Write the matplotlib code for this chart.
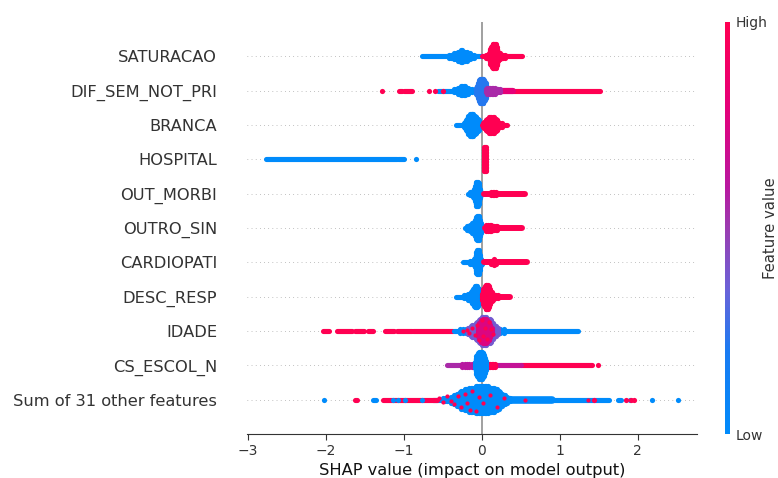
import numpy as np
import matplotlib
matplotlib.use('Agg')
import matplotlib.pyplot as plt
from matplotlib.colors import LinearSegmentedColormap
from matplotlib.cm import ScalarMappable

FEATURES = ['SATURACAO', 'DIF_SEM_NOT_PRI', 'BRANCA', 'HOSPITAL', 'OUT_MORBI', 'OUTRO_SIN',
            'CARDIOPATI', 'DESC_RESP', 'IDADE', 'CS_ESCOL_N', 'Sum of 31 other features']
X_TICKS = [-3, -2, -1, 0, 1, 2]

# *_X / *_N: SHAP values and how many dots are stacked each side of the row there
# *_RUNS: (start, end) of stretches where the dots merge into one solid band
SAT_LOW_RUNS = [(-0.77, 0.0)]
SAT_LOW_X = [-0.42, -0.39, -0.37, -0.35, -0.33, -0.31, -0.29, -0.27, -0.25, -0.23, -0.21, -0.19, -0.17, -0.15, -0.13, -0.10]
SAT_LOW_N = [1, 1, 1, 2, 2, 3, 3, 4, 4, 3, 3, 3, 2, 2, 1, 1]
SAT_HIGH_RUNS = [(0.0, 0.52)]
SAT_HIGH_X = [0.06, 0.08, 0.09, 0.10, 0.11, 0.12, 0.13, 0.14, 0.15, 0.16, 0.17, 0.18, 0.19, 0.20, 0.21, 0.22, 0.24, 0.27, 0.30]
SAT_HIGH_N = [1, 1, 2, 3, 5, 6, 7, 8, 8, 8, 8, 8, 6, 5, 3, 2, 2, 1, 1]

DIF_RED_LEFT_X = [-1.28, -0.68, -0.60, -0.50]
DIF_RED_LEFT_RUNS = [(-1.06, -1.02), (-1.0, -0.89)]
DIF_LOW_RUNS = [(-0.56, -0.05)]
DIF_LOW_X = [-0.36, -0.33, -0.31, -0.29, -0.27, -0.25, -0.23, -0.21, -0.19, -0.17, -0.15, -0.12]
DIF_LOW_N = [1, 1, 2, 2, 3, 3, 3, 3, 2, 2, 1, 1]
DIF_MID_X = [-0.07, -0.06, -0.05, -0.04, -0.03, -0.02, -0.01, 0.0, 0.01, 0.02, 0.03, 0.04, 0.05, 0.06, 0.07]
DIF_MID_N = [2, 3, 5, 6, 7, 8, 8, 8, 8, 8, 7, 6, 5, 3, 2]
DIF_PURPLE_X = [0.05, 0.07, 0.09, 0.11, 0.13, 0.15, 0.17, 0.19, 0.21, 0.24]
DIF_PURPLE_N = [1, 2, 2, 2, 2, 2, 2, 1, 1, 1]
DIF_MAG_RUNS = [(0.2, 0.4)]
DIF_HIGH_RUNS = [(0.4, 1.52)]

BRANCA_LOW_RUNS = [(-0.33, 0.0)]
BRANCA_LOW_X = [-0.23, -0.21, -0.20, -0.19, -0.18, -0.17, -0.16, -0.15, -0.14, -0.13, -0.12, -0.11, -0.10, -0.09, -0.08, -0.07, -0.06, -0.05, -0.04, -0.03, -0.02]
BRANCA_LOW_N = [1, 2, 3, 4, 5, 6, 6, 7, 7, 7, 7, 7, 6, 6, 5, 5, 4, 4, 3, 2, 1]
BRANCA_HIGH_RUNS = [(0.0, 0.33)]
BRANCA_HIGH_X = [0.02, 0.03, 0.04, 0.05, 0.06, 0.07, 0.08, 0.09, 0.10, 0.12, 0.14, 0.16, 0.17, 0.18, 0.19, 0.20, 0.21, 0.22, 0.24, 0.26]
BRANCA_HIGH_N = [1, 2, 2, 3, 3, 4, 4, 5, 5, 5, 5, 5, 4, 4, 3, 3, 2, 1, 1, 1]

HOSP_LOW_RUNS = [(-2.77, -1.09), (-1.07, -1.0)]
HOSP_LOW_X = [-0.84]
HOSP_HIGH_X = [0.03, 0.04, 0.05]
HOSP_HIGH_N = [8, 8, 8]

MORBI_LOW_X = [-0.18, -0.15, -0.13, -0.11, -0.10, -0.09, -0.08, -0.07, -0.06, -0.05, -0.04, -0.03, -0.02, -0.01]
MORBI_LOW_N = [0, 1, 1, 2, 3, 5, 7, 8, 8, 8, 7, 5, 3, 1]
MORBI_HIGH_RUNS = [(0.03, 0.56)]
MORBI_HIGH_X = [0.12, 0.14, 0.16, 0.18]
MORBI_HIGH_N = [1, 1, 1, 1]

SIN_LOW_X = [-0.22, -0.19, -0.17, -0.15, -0.13, -0.12, -0.11, -0.10, -0.09, -0.08, -0.07, -0.06, -0.05, -0.04, -0.03, -0.02, -0.01, 0.0]
SIN_LOW_N = [0, 1, 1, 2, 2, 3, 3, 4, 5, 6, 7, 8, 8, 8, 7, 5, 3, 1]
SIN_HIGH_RUNS = [(0.04, 0.52)]
SIN_HIGH_X = [0.05, 0.06, 0.08, 0.10, 0.12, 0.14, 0.16, 0.18, 0.20]
SIN_HIGH_N = [1, 2, 2, 2, 2, 1, 1, 1, 1]

CARD_LOW_RUNS = [(-0.24, -0.08)]
CARD_LOW_X = [-0.15, -0.12, -0.10, -0.09, -0.08, -0.07, -0.06, -0.05, -0.04, -0.03, -0.02, -0.01, 0.0]
CARD_LOW_N = [1, 1, 2, 3, 5, 7, 8, 8, 8, 7, 5, 2, 1]
CARD_HIGH_RUNS = [(0.03, 0.58)]
CARD_HIGH_X = [0.12, 0.14, 0.16, 0.18]
CARD_HIGH_N = [1, 1, 2, 1]

RESP_LOW_RUNS = [(-0.33, -0.1)]
RESP_LOW_X = [-0.23, -0.20, -0.18, -0.16, -0.14, -0.13, -0.12, -0.11, -0.10, -0.09, -0.08, -0.07, -0.06, -0.05, -0.04, -0.03, -0.02, -0.01]
RESP_LOW_N = [1, 1, 2, 2, 3, 4, 4, 5, 6, 7, 7, 7, 7, 6, 5, 4, 2, 1]
RESP_HIGH_RUNS = [(0.1, 0.36)]
RESP_HIGH_X = [0.0, 0.01, 0.02, 0.03, 0.04, 0.05, 0.06, 0.07, 0.08, 0.09, 0.10, 0.11, 0.12, 0.13, 0.14, 0.16, 0.18, 0.21]
RESP_HIGH_N = [2, 3, 5, 6, 7, 8, 8, 8, 8, 7, 5, 4, 3, 3, 2, 1, 1, 1]

AGE_HIGH_RUNS = [(-2.03, -1.96), (-1.86, -1.67), (-1.62, -1.51), (-1.46, -1.39), (-1.24, -1.12), (-1.09, -0.90), (-0.88, -0.37)]
AGE_BLUE_RUNS = [(-0.36, -0.14), (0.2, 1.23)]
AGE_BLUE_X = [-0.28, -0.24, -0.20, -0.16, 0.20, 0.24, 0.28]
AGE_BLUE_N = [1, 1, 1, 2, 2, 1, 1]
AGE_MID_X = [-0.18, -0.16, -0.14, -0.12, -0.10, -0.08, -0.06, -0.04, -0.02, 0.0, 0.02, 0.04, 0.06, 0.08, 0.10, 0.12, 0.14, 0.16, 0.18, 0.21]
AGE_MID_N = [2, 2, 3, 4, 4, 5, 6, 7, 8, 9, 9, 9, 9, 8, 8, 7, 5, 4, 3, 2]
AGE_MAG_X = [-0.05, -0.03, -0.01, 0.01, 0.03, 0.05, 0.07, 0.09, 0.11, 0.13]
AGE_MAG_N = [3, 5, 7, 8, 8, 8, 7, 6, 4, 2]
AGE_SPECK_X = [-0.24, -0.19, -0.16, -0.12, -0.09, -0.06, -0.03, 0.0, 0.02, 0.04, 0.07, 0.09, 0.12, 0.15]
AGE_SPECK_Y = [0.0, 0.03, -0.06, 0.08, -0.11, 0.17, -0.26, 0.31, -0.14, 0.10, -0.22, 0.26, 0.05, -0.08]

ESC_PURPLE_RUNS = [(-0.45, -0.1)]
ESC_PURPLE_X = [-0.25, -0.22, -0.19, -0.16, -0.13]
ESC_PURPLE_N = [1, 1, 1, 1, 1]
ESC_LOW_X = [-0.09, -0.08, -0.07, -0.06, -0.05, -0.04, -0.03, -0.02, -0.01, 0.0, 0.01, 0.02, 0.03, 0.04, 0.05]
ESC_LOW_N = [2, 4, 6, 7, 8, 8, 9, 9, 9, 9, 8, 8, 7, 5, 3]
ESC_MAG_RUNS = [(0.12, 0.5)]
ESC_HIGH_RUNS = [(0.5, 1.42)]
ESC_HIGH_X = [1.49]
ESC_NEAR_X = [0.07, 0.09, 0.11, 0.13, 0.15, 0.17]
ESC_NEAR_N = [1, 1, 1, 1, 1, 1]

SUM_LOW_RUNS = [(-0.62, 1.63), (-1.40, -1.35), (1.75, 1.79)]
SUM_WIDE_RUNS = [(0.2, 0.9)]
SUM_LOW_X = [-2.02, 1.90, 2.18, 2.51, -0.50, -0.47, -0.44, -0.42, -0.40, -0.38, -0.36, -0.34, -0.32, -0.30, -0.28, -0.26, -0.24, -0.22, -0.20, -0.18, -0.16, -0.14, -0.12, -0.10, -0.08, -0.06, -0.04, -0.02, 0.0,
             0.02, 0.04, 0.06, 0.08, 0.10, 0.12, 0.14, 0.16, 0.18, 0.20, 0.22, 0.24, 0.26, 0.28, 0.30, 0.33, 0.36]
SUM_LOW_N = [0, 0, 0, 0, 1, 1, 1, 1, 2, 2, 3, 3, 4, 4, 5, 6, 6, 7, 7, 7, 8, 8, 8, 8, 9, 9, 9, 9, 9,
             9, 9, 9, 9, 8, 8, 8, 8, 7, 7, 6, 5, 4, 3, 3, 2, 1]
SUM_HIGH_RUNS = [(-1.63, -1.60), (-1.27, -0.58)]
SUM_HIGH_X = [1.44, 1.85, 1.92, 1.95]
SUM_BLUE_TAIL_X = [-1.14, -1.08, -0.98, -0.76]
SUM_SPECK_X = [-0.55, -0.50, -0.44, -0.40, -0.35, -0.31, -0.27, -0.22, -0.19, -0.15, -0.12, -0.07, -0.04, 0.02, 0.10, 0.20, 0.28, 0.56, 1.36]
SUM_SPECK_Y = [0.05, -0.07, 0.10, -0.03, -0.13, 0.12, -0.20, 0.17, -0.10, -0.31, 0.24, -0.33, 0.07, -0.10, 0.14, -0.20, 0.05, 0.0, 0.0]

BLUE_RED = LinearSegmentedColormap.from_list('shap_red_blue', [
    (0.0, '#008bfb'), (0.2, '#1a7bf2'), (0.35, '#6a62d8'), (0.5, '#9b3cb0'),
    (0.6, '#b818a0'), (0.8, '#e60078'), (1.0, '#ff0052')])

STEP = 0.044
DOT = 14


def swarm(ax, row, xs, val, ns=None):
    # stack dots symmetrically around the row
    if ns is None:
        ns = [0] * len(xs)
    px, py = [], []
    for x, n in zip(xs, ns):
        for k in range(-n, n + 1):
            px.append(x)
            py.append(row + k * STEP)
    ax.scatter(px, py, s=DOT, color=BLUE_RED(val), linewidths=0, zorder=3)


def runs(ax, row, spans, val, lw=3.7):
    for x0, x1 in spans:
        ax.plot([x0, x1], [row, row], color=BLUE_RED(val), lw=lw, solid_capstyle='round', zorder=3)


def specks(ax, row, xs, dys, val, size=9):
    ax.scatter(xs, np.array(dys) + row, s=size, color=BLUE_RED(val), linewidths=0, zorder=4)


fig = plt.figure(figsize=(7.78, 4.78), dpi=100)
ax = fig.add_axes([247 / 778, 1 - 434 / 478, 450 / 778, 412 / 478])

rows = [len(FEATURES) - 1 - i for i in range(len(FEATURES))]
for r in rows:
    ax.axhline(r, color='#888888', lw=0.5, dashes=(1, 5), zorder=-1)
ax.axvline(0, color='#999999', lw=1.3, zorder=-1)

runs(ax, rows[0], SAT_LOW_RUNS, 0.0)
swarm(ax, rows[0], SAT_LOW_X, 0.0, SAT_LOW_N)
runs(ax, rows[0], SAT_HIGH_RUNS, 1.0)
swarm(ax, rows[0], SAT_HIGH_X, 1.0, SAT_HIGH_N)

runs(ax, rows[1], DIF_LOW_RUNS, 0.0)
swarm(ax, rows[1], DIF_LOW_X, 0.0, DIF_LOW_N)
swarm(ax, rows[1], DIF_RED_LEFT_X, 1.0)
runs(ax, rows[1], DIF_RED_LEFT_RUNS, 1.0)
runs(ax, rows[1], DIF_HIGH_RUNS, 1.0)
runs(ax, rows[1], DIF_MAG_RUNS, 0.8, lw=4.5)
swarm(ax, rows[1], DIF_MID_X, 0.22, DIF_MID_N)
swarm(ax, rows[1], DIF_PURPLE_X, 0.55, DIF_PURPLE_N)

runs(ax, rows[2], BRANCA_LOW_RUNS, 0.0)
swarm(ax, rows[2], BRANCA_LOW_X, 0.0, BRANCA_LOW_N)
runs(ax, rows[2], BRANCA_HIGH_RUNS, 1.0)
swarm(ax, rows[2], BRANCA_HIGH_X, 1.0, BRANCA_HIGH_N)

runs(ax, rows[3], HOSP_LOW_RUNS, 0.0)
swarm(ax, rows[3], HOSP_LOW_X, 0.0)
swarm(ax, rows[3], HOSP_HIGH_X, 1.0, HOSP_HIGH_N)

swarm(ax, rows[4], MORBI_LOW_X, 0.0, MORBI_LOW_N)
runs(ax, rows[4], MORBI_HIGH_RUNS, 1.0, lw=4.3)
swarm(ax, rows[4], MORBI_HIGH_X, 1.0, MORBI_HIGH_N)

swarm(ax, rows[5], SIN_LOW_X, 0.0, SIN_LOW_N)
runs(ax, rows[5], SIN_HIGH_RUNS, 1.0, lw=4.3)
swarm(ax, rows[5], SIN_HIGH_X, 1.0, SIN_HIGH_N)

runs(ax, rows[6], CARD_LOW_RUNS, 0.0)
swarm(ax, rows[6], CARD_LOW_X, 0.0, CARD_LOW_N)
runs(ax, rows[6], CARD_HIGH_RUNS, 1.0, lw=4.3)
swarm(ax, rows[6], CARD_HIGH_X, 1.0, CARD_HIGH_N)

runs(ax, rows[7], RESP_LOW_RUNS, 0.0)
swarm(ax, rows[7], RESP_LOW_X, 0.0, RESP_LOW_N)
runs(ax, rows[7], RESP_HIGH_RUNS, 1.0, lw=4.3)
swarm(ax, rows[7], RESP_HIGH_X, 1.0, RESP_HIGH_N)

runs(ax, rows[8], AGE_HIGH_RUNS, 1.0)
runs(ax, rows[8], AGE_BLUE_RUNS, 0.0)
swarm(ax, rows[8], AGE_BLUE_X, 0.0, AGE_BLUE_N)
swarm(ax, rows[8], AGE_MID_X, 0.38, AGE_MID_N)
swarm(ax, rows[8], AGE_MAG_X, 0.75, AGE_MAG_N)
specks(ax, rows[8], AGE_SPECK_X, AGE_SPECK_Y, 1.0)

runs(ax, rows[9], ESC_PURPLE_RUNS, 0.55)
swarm(ax, rows[9], ESC_PURPLE_X, 0.6, ESC_PURPLE_N)
runs(ax, rows[9], ESC_HIGH_RUNS, 1.0)
swarm(ax, rows[9], ESC_HIGH_X, 1.0)
runs(ax, rows[9], ESC_MAG_RUNS, 0.65)
swarm(ax, rows[9], ESC_NEAR_X, 1.0, ESC_NEAR_N)
swarm(ax, rows[9], ESC_LOW_X, 0.0, ESC_LOW_N)

runs(ax, rows[10], SUM_LOW_RUNS, 0.0)
runs(ax, rows[10], SUM_WIDE_RUNS, 0.0, lw=5.5)
swarm(ax, rows[10], SUM_LOW_X, 0.0, SUM_LOW_N)
runs(ax, rows[10], SUM_HIGH_RUNS, 1.0)
swarm(ax, rows[10], SUM_HIGH_X, 1.0)
swarm(ax, rows[10], SUM_BLUE_TAIL_X, 0.0)
specks(ax, rows[10], SUM_SPECK_X, SUM_SPECK_Y, 1.0)

ax.set_xlim(-3.01, 2.76)
ax.set_ylim(-1, 11)
ax.set_xticks(X_TICKS)
ax.set_xticklabels(['\u22123', '\u22122', '\u22121', '0', '1', '2'])
ax.set_yticks(rows)
ax.set_yticklabels(FEATURES)
ax.tick_params(axis='y', length=0, pad=21.5, labelsize=11.7, labelcolor='#333333')
ax.tick_params(axis='x', labelsize=10, labelcolor='#333333', color='#333333', length=4)
ax.set_xlabel('SHAP value (impact on model output)', fontsize=11.7, color='#111111', labelpad=3.5)
for s in ['top', 'left', 'right']:
    ax.spines[s].set_visible(False)
ax.spines['bottom'].set_color('#333333')

# colorbar on the right
cax = fig.add_axes([725 / 778, 1 - 434 / 478, 5 / 778, 412 / 478])
sm = ScalarMappable(cmap=BLUE_RED)
sm.set_array([0, 1])
cb = fig.colorbar(sm, cax=cax, ticks=[0, 1])
cb.set_ticklabels(['Low', 'High'])
cb.ax.tick_params(length=0, labelsize=10, labelcolor='#333333', pad=4)
cb.outline.set_visible(False)
cb.set_label('Feature value', fontsize=10.7, color='#333333', labelpad=-3)

fig.savefig('out.png', dpi=100)
